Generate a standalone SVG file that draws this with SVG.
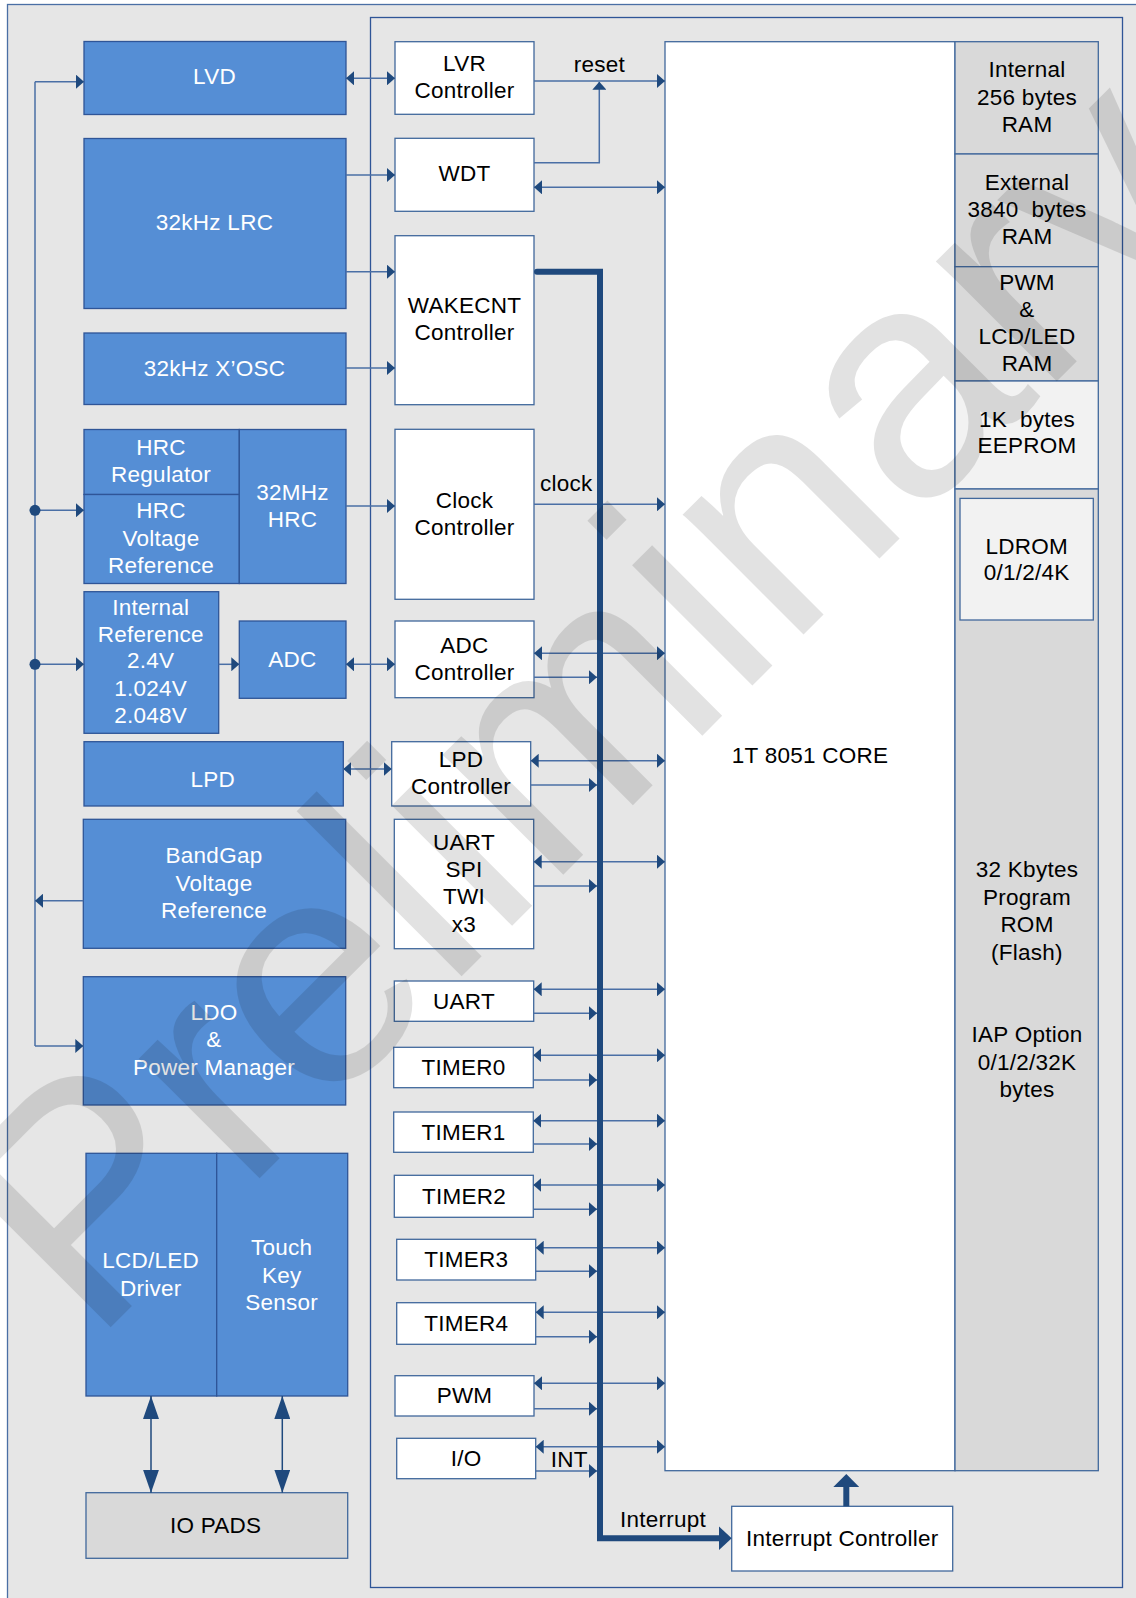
<svg xmlns="http://www.w3.org/2000/svg" width="1136" height="1598" viewBox="0 0 1136 1598">
<style>
.bg{fill:#e6e6e6;stroke:#4a6fa5;stroke-width:1.3}
.chip{fill:#e6e6e6;stroke:#2f5597;stroke-width:1.3}
.blue{fill:#558ed5;stroke:#2f5597;stroke-width:1.3}
.wb{fill:#fff;stroke:#41689c;stroke-width:1.3}
.mem{fill:#d9d9d9;stroke:#41689c;stroke-width:1.3}
.lt{fill:#f2f2f2;stroke:#41689c;stroke-width:1.3}
text{font-family:"Liberation Sans",Arial,sans-serif;font-size:22.5px;letter-spacing:0.25px;fill:#000}
.w{fill:#fff}
.c{text-anchor:middle}
.ln{fill:none;stroke:#4a6fa5;stroke-width:1.5}
.bi{marker-start:url(#a);marker-end:url(#a)}
.ar{marker-end:url(#a)}
.big{fill:none;stroke:#1f497d;stroke-width:1.5;marker-start:url(#b);marker-end:url(#b)}
.thick{fill:none;stroke:#1f497d;stroke-width:6}
</style>
<defs>
<marker id="a" markerUnits="userSpaceOnUse" markerWidth="8" markerHeight="14" refX="8" refY="7" orient="auto-start-reverse" viewBox="0 0 8 14"><path d="M0,0L8,7L0,14z" fill="#1f497d"/></marker>
<marker id="b" markerUnits="userSpaceOnUse" markerWidth="23" markerHeight="16" refX="23" refY="8" orient="auto-start-reverse" viewBox="0 0 23 16"><path d="M0,0L23,8L0,16z" fill="#1f497d"/></marker>
<marker id="t" markerUnits="userSpaceOnUse" markerWidth="13" markerHeight="24" refX="0" refY="12" orient="auto" viewBox="0 0 13 24"><path d="M0,0L13,12L0,24z" fill="#1f497d"/></marker>
<marker id="u" markerUnits="userSpaceOnUse" markerWidth="13" markerHeight="26" refX="0" refY="13" orient="auto" viewBox="0 0 13 26"><path d="M0,0L13,13L0,26z" fill="#1f497d"/></marker>
</defs>

<rect id="frame" class="bg" x="7.5" y="4.5" width="1140" height="1600"/>
<rect id="chip" class="chip" x="370.5" y="17.5" width="752" height="1570"/>

<g id="lvd"><rect class="blue" x="84" y="41.5" width="262" height="73"/><text class="w c" x="214.5" y="83.5">LVD</text></g>
<g id="lrc"><rect class="blue" x="84" y="138.5" width="262" height="170"/><text class="w c" x="214.5" y="230">32kHz LRC</text></g>
<g id="xosc"><rect class="blue" x="84" y="333" width="262" height="71.5"/><text class="w c" x="214.5" y="376">32kHz X’OSC</text></g>
<g id="hrc-reg"><rect class="blue" x="84" y="429.5" width="155.3" height="65"/><text class="w c" x="161" y="455">HRC</text><text class="w c" x="161" y="481.7">Regulator</text></g>
<g id="hrc-vref"><rect class="blue" x="84" y="494.5" width="155.3" height="89"/><text class="w c" x="161" y="518.3">HRC</text><text class="w c" x="161" y="546">Voltage</text><text class="w c" x="161" y="572.7">Reference</text></g>
<g id="hrc32"><rect class="blue" x="239.3" y="429.5" width="106.7" height="154"/><text class="w c" x="292.5" y="500">32MHz</text><text class="w c" x="292.5" y="526.7">HRC</text></g>
<g id="intref"><rect class="blue" x="84" y="591.7" width="134.7" height="141.6"/><text class="w c" x="150.7" y="615">Internal</text><text class="w c" x="150.7" y="641.7">Reference</text><text class="w c" x="150.7" y="668.3">2.4V</text><text class="w c" x="150.7" y="696">1.024V</text><text class="w c" x="150.7" y="723.3">2.048V</text></g>
<g id="adc"><rect class="blue" x="239.3" y="621" width="106.7" height="77.3"/><text class="w c" x="292.5" y="666.7">ADC</text></g>
<g id="lpd"><rect class="blue" x="84" y="741.7" width="259.3" height="64.3"/><text class="w c" x="212.7" y="787.3">LPD</text></g>
<g id="bandgap"><rect class="blue" x="83.3" y="819.3" width="262.4" height="129"/><text class="w c" x="214" y="863.3">BandGap</text><text class="w c" x="214" y="891">Voltage</text><text class="w c" x="214" y="918.3">Reference</text></g>
<g id="ldo"><rect class="blue" x="83.3" y="976.7" width="262.4" height="128.3"/><text class="w c" x="214" y="1020">LDO</text><text class="w c" x="214" y="1047.3">&amp;</text><text class="w c" x="214" y="1075">Power Manager</text></g>
<g id="lcd"><rect class="blue" x="86" y="1153.3" width="130.7" height="242.7"/><text class="w c" x="150.7" y="1268.3">LCD/LED</text><text class="w c" x="150.7" y="1296">Driver</text></g>
<g id="touch"><rect class="blue" x="216.7" y="1153.3" width="131" height="242.7"/><text class="w c" x="281.7" y="1255">Touch</text><text class="w c" x="281.7" y="1282.7">Key</text><text class="w c" x="281.7" y="1310">Sensor</text></g>
<g id="iopads"><rect class="mem" x="86" y="1492.7" width="261.7" height="65.6"/><text class="c" x="215.7" y="1532.7">IO PADS</text></g>

<g id="lvr"><rect class="wb" x="395" y="41.7" width="139" height="72.6"/><text class="c" x="464.5" y="71">LVR</text><text class="c" x="464.5" y="98.3">Controller</text></g>
<g id="wdt"><rect class="wb" x="395" y="138.3" width="139" height="73"/><text class="c" x="464.5" y="181">WDT</text></g>
<g id="wakecnt"><rect class="wb" x="395" y="235.7" width="139" height="169"/><text class="c" x="464.5" y="312.7">WAKECNT</text><text class="c" x="464.5" y="340">Controller</text></g>
<g id="clockc"><rect class="wb" x="395" y="429.3" width="139" height="170"/><text class="c" x="464.5" y="508.3">Clock</text><text class="c" x="464.5" y="535">Controller</text></g>
<g id="adcc"><rect class="wb" x="395" y="621" width="139" height="76.7"/><text class="c" x="464.5" y="653.3">ADC</text><text class="c" x="464.5" y="680">Controller</text></g>
<g id="lpdc"><rect class="wb" x="391.7" y="741.7" width="139" height="64.3"/><text class="c" x="461" y="766.7">LPD</text><text class="c" x="461" y="794">Controller</text></g>
<g id="serial"><rect class="wb" x="394.3" y="819.3" width="139.4" height="129.4"/><text class="c" x="464" y="850">UART</text><text class="c" x="464" y="877.3">SPI</text><text class="c" x="464" y="904.3">TWI</text><text class="c" x="464" y="931.7">x3</text></g>
<g id="uart"><rect class="wb" x="394.3" y="981" width="139.4" height="40.3"/><text class="c" x="464" y="1009.3">UART</text></g>
<g id="timer0"><rect class="wb" x="393.7" y="1047.3" width="139.6" height="40.4"/><text class="c" x="463.5" y="1075">TIMER0</text></g>
<g id="timer1"><rect class="wb" x="393.7" y="1112" width="139.6" height="40.3"/><text class="c" x="463.5" y="1140">TIMER1</text></g>
<g id="timer2"><rect class="wb" x="394.3" y="1175.3" width="139" height="42"/><text class="c" x="464" y="1204">TIMER2</text></g>
<g id="timer3"><rect class="wb" x="396.7" y="1239.3" width="139" height="40.7"/><text class="c" x="466.2" y="1267.3">TIMER3</text></g>
<g id="timer4"><rect class="wb" x="396.7" y="1302.7" width="139" height="41.6"/><text class="c" x="466.2" y="1330.7">TIMER4</text></g>
<g id="pwm"><rect class="wb" x="395" y="1375.7" width="139" height="40.3"/><text class="c" x="464.5" y="1403.3">PWM</text></g>
<g id="io"><rect class="wb" x="396.7" y="1438.3" width="139" height="40.4"/><text class="c" x="466.2" y="1466">I/O</text></g>

<g id="core"><rect class="wb" x="665" y="41.7" width="290" height="1429"/><text class="c" x="810" y="763">1T 8051 CORE</text></g>
<g id="ram256"><rect class="mem" x="955" y="41.7" width="143.3" height="112.3"/><text class="c" x="1027" y="77.3">Internal</text><text class="c" x="1027" y="105">256 bytes</text><text class="c" x="1027" y="132.3">RAM</text></g>
<g id="extram"><rect class="mem" x="955" y="154" width="143.3" height="112.7"/><text class="c" x="1027" y="190">External</text><text class="c" x="1027" y="217.3" xml:space="preserve">3840  bytes</text><text class="c" x="1027" y="244.3">RAM</text></g>
<g id="pwmram"><rect class="mem" x="955" y="266.7" width="143.3" height="114.3"/><text class="c" x="1027" y="290">PWM</text><text class="c" x="1027" y="316.7">&amp;</text><text class="c" x="1027" y="344">LCD/LED</text><text class="c" x="1027" y="371">RAM</text></g>
<g id="eeprom"><rect class="lt" x="955" y="381" width="143.3" height="108"/><text class="c" x="1027" y="426.7" xml:space="preserve">1K  bytes</text><text class="c" x="1027" y="452.7">EEPROM</text></g>
<g id="rom"><rect class="mem" x="955" y="489" width="143.3" height="981.7"/><text class="c" x="1027" y="877">32 Kbytes</text><text class="c" x="1027" y="904.5">Program</text><text class="c" x="1027" y="932">ROM</text><text class="c" x="1027" y="959.5">(Flash)</text><text class="c" x="1027" y="1042">IAP Option</text><text class="c" x="1027" y="1069.6">0/1/2/32K</text><text class="c" x="1027" y="1097">bytes</text></g>
<g id="ldrom"><rect class="lt" x="960" y="498.4" width="133.3" height="121.6"/><text class="c" x="1026.7" y="554.3">LDROM</text><text class="c" x="1026.7" y="580">0/1/2/4K</text></g>
<g id="intc"><rect class="wb" x="731.7" y="1506.3" width="221" height="64.7"/><text class="c" x="842.3" y="1546">Interrupt Controller</text></g>

<g id="connectors">
<path class="ln" d="M35,81.7V1046"/>
<path class="ln ar" d="M35,81.7H84"/>
<path class="ln ar" d="M35,510.3H84"/>
<path class="ln ar" d="M35,664.3H84"/>
<path class="ln ar" d="M35,1046H83.3"/>
<path class="ln ar" d="M83.3,900.7H35"/>
<circle cx="35" cy="510.3" r="5.5" fill="#1f497d"/>
<circle cx="35" cy="664.3" r="5.5" fill="#1f497d"/>
<path class="ln bi" d="M346,78.3H395"/>
<path class="ln ar" d="M346,175H395"/>
<path class="ln ar" d="M346,271.7H395"/>
<path class="ln ar" d="M346,368H395"/>
<path class="ln ar" d="M346,506H395"/>
<path class="ln ar" d="M218.7,664.3H239.3"/>
<path class="ln bi" d="M346,664.3H395"/>
<path class="ln bi" d="M343.3,769H391.7"/>
<path class="ln ar" d="M534,81H665"/>
<path class="ln ar" d="M534,162.7H599.3V81.7"/>
<path class="ln bi" d="M534,187.3H665"/>
<path class="ln ar" d="M534,504.3H665"/>
<path class="ln bi" d="M534,653.3H665"/>
<path class="ln ar" d="M534,677.3H597"/>
<path class="ln bi" d="M530.7,760.7H665"/>
<path class="ln ar" d="M530.7,785H597"/>
<path class="ln bi" d="M533.7,861.7H665"/>
<path class="ln ar" d="M533.7,886H597"/>
<path class="ln bi" d="M533.7,989.3H665"/>
<path class="ln ar" d="M533.7,1013.3H597"/>
<path class="ln bi" d="M533.3,1055.3H665"/>
<path class="ln ar" d="M533.3,1080H597"/>
<path class="ln bi" d="M533.3,1120.7H665"/>
<path class="ln ar" d="M533.3,1144H597"/>
<path class="ln bi" d="M533.3,1185H665"/>
<path class="ln ar" d="M533.3,1209.3H597"/>
<path class="ln bi" d="M535.7,1247.7H665"/>
<path class="ln ar" d="M535.7,1271.3H597"/>
<path class="ln bi" d="M535.7,1312.3H665"/>
<path class="ln ar" d="M535.7,1336.7H597"/>
<path class="ln bi" d="M534,1383.3H665"/>
<path class="ln ar" d="M534,1408.7H597"/>
<path class="ln bi" d="M535.7,1446.7H665"/>
<path class="ln ar" d="M535.7,1471H597"/>
<path class="thick" stroke-linecap="round" d="M537,271.7H600V1538.3H718.7" marker-end="url(#t)"/>
<path class="thick" d="M846.3,1506.3V1487" marker-end="url(#u)"/>
<path class="big" d="M151,1396V1492.7"/>
<path class="big" d="M282.3,1396V1492.7"/>
<text class="c" x="599.3" y="71.7">reset</text>
<text x="540" y="490.7">clock</text>
<text x="550.7" y="1467.3">INT</text>
<text x="620" y="1526.7">Interrupt</text>
</g>

<text id="watermark" x="0" y="0" transform="translate(92,1346) rotate(-45)" style="font-size:322px;letter-spacing:0;fill:#000" opacity="0.11">Preliminary</text>
</svg>
